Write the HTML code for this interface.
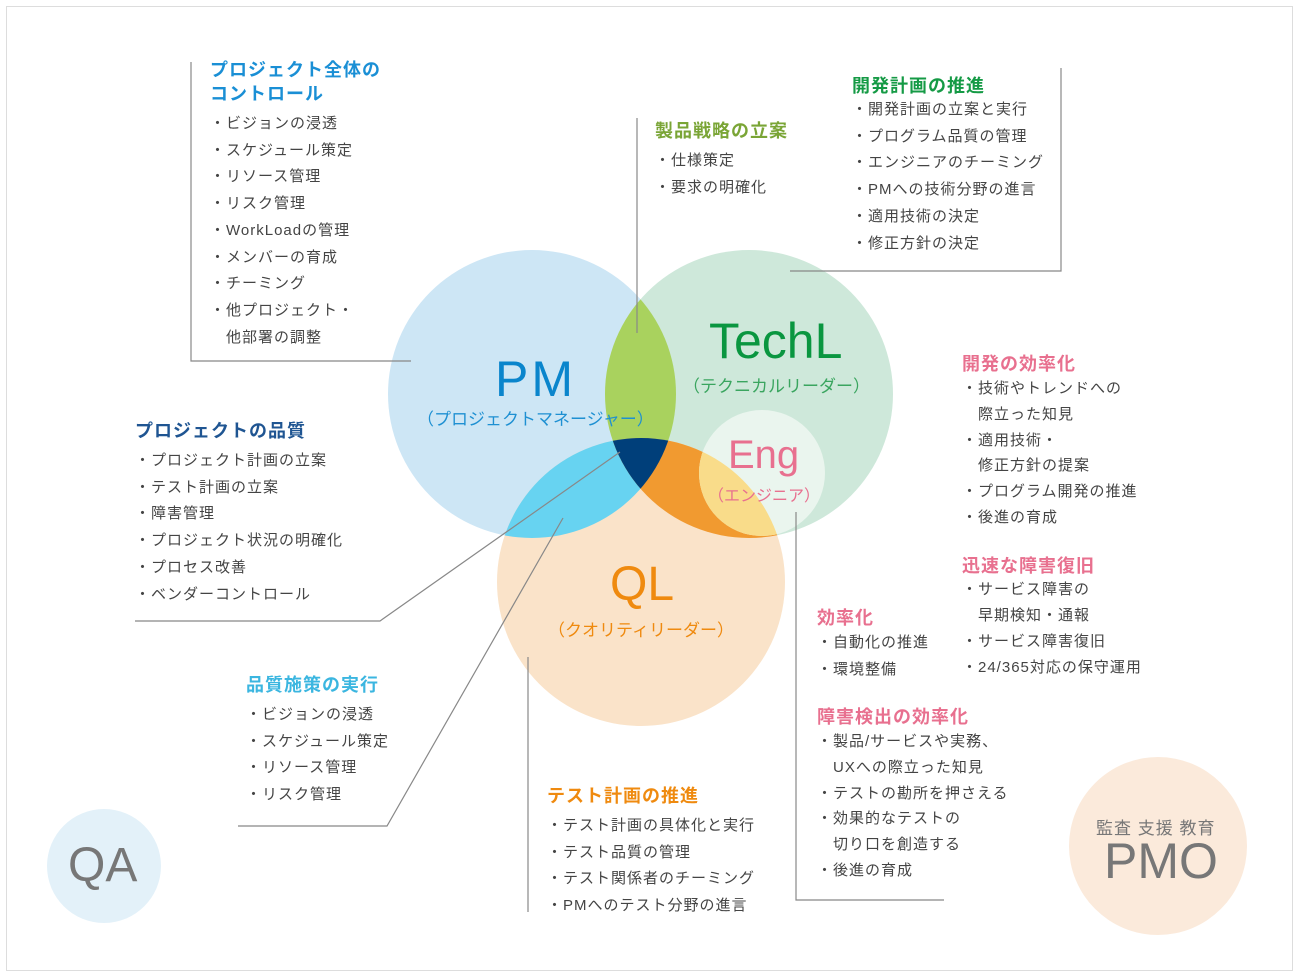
<!DOCTYPE html>
<html><head><meta charset="utf-8"><style>
body{margin:0;width:1299px;height:979px;background:#fff;position:relative;overflow:hidden;font-family:"Liberation Sans","Noto Sans CJK JP",sans-serif;color:#444}
.t{position:absolute;white-space:nowrap}
.h{font-size:18px;font-weight:bold;letter-spacing:1px}
.l{font-size:15px;line-height:26.7px;letter-spacing:1px}
</style></head><body>
<svg width="1299" height="979" style="position:absolute;left:0;top:0">
<rect x="6.5" y="6.5" width="1286" height="964" fill="none" stroke="#ddd"/>
<defs>
<clipPath id="cpm"><circle cx="532" cy="394" r="144"/></clipPath>
<clipPath id="ctl"><circle cx="749" cy="394" r="144"/></clipPath>
<clipPath id="cql"><circle cx="641" cy="582" r="144"/></clipPath>
<clipPath id="cen"><circle cx="762" cy="473" r="63"/></clipPath>
</defs>
<circle cx="532" cy="394" r="144" fill="#cde6f5"/>
<circle cx="749" cy="394" r="144" fill="#cee8da"/>
<circle cx="641" cy="582" r="144" fill="#fae3c9"/>
<circle cx="749" cy="394" r="144" fill="#a9d25e" clip-path="url(#cpm)"/>
<circle cx="641" cy="582" r="144" fill="#67d3f1" clip-path="url(#cpm)"/>
<circle cx="641" cy="582" r="144" fill="#f19a30" clip-path="url(#ctl)"/>
<g clip-path="url(#cpm)"><circle cx="641" cy="582" r="144" fill="#003f7a" clip-path="url(#ctl)"/></g>
<circle cx="762" cy="473" r="63" fill="#eaf5ee" clip-path="url(#ctl)"/>
<g clip-path="url(#cen)"><circle cx="641" cy="582" r="144" fill="#f9dc8a" clip-path="url(#ctl)"/></g>
<circle cx="104" cy="866" r="57" fill="#e3f1f9"/>
<circle cx="1158" cy="846" r="89" fill="#fbeadb"/>
<g stroke="#888" stroke-width="1.2" fill="none">
<polyline points="191,62 191,361 411,361"/>
<line x1="637" y1="118" x2="637" y2="333"/>
<polyline points="1061,68 1061,271 790,271"/>
<polyline points="135,621 380,621 620,452"/>
<polyline points="238,826 387,826 563,518"/>
<line x1="528" y1="657" x2="528" y2="912"/>
<polyline points="796,512 796,900 944,900"/>
</g>
</svg>
<div class="t" style="left:495px;top:350px;font-size:50px;color:#0a85cc;letter-spacing:3px">PM</div>
<div class="t" style="left:417px;top:405px;font-size:17px;color:#1e90d2">（プロジェクトマネージャー）</div>
<div class="t" style="left:709px;top:312px;font-size:50px;color:#0a9640">TechL</div>
<div class="t" style="left:683px;top:372px;font-size:17px;color:#3aa55f">（テクニカルリーダー）</div>
<div class="t" style="left:728px;top:433px;font-size:40px;color:#e8708f">Eng</div>
<div class="t" style="left:708px;top:482px;font-size:16px;color:#e8708f">（エンジニア）</div>
<div class="t" style="left:610px;top:557px;font-size:48px;color:#ef8a0f">QL</div>
<div class="t" style="left:548px;top:616px;font-size:17px;color:#ef8a0f">（クオリティリーダー）</div>
<div class="t" style="left:68px;top:838px;font-size:48px;color:#777">QA</div>
<div class="t" style="left:1096px;top:814px;font-size:17px;color:#777;letter-spacing:1px">監査 支援 教育</div>
<div class="t" style="left:1104px;top:832px;font-size:50px;color:#777">PMO</div>

<div class="t h" style="left:210px;top:58px;color:#1a8fd5;line-height:24px">プロジェクト全体の<br>コントロール</div>
<div class="t l" style="left:210px;top:111px">・ビジョンの浸透<br>・スケジュール策定<br>・リソース管理<br>・リスク管理<br>・WorkLoadの管理<br>・メンバーの育成<br>・チーミング<br>・他プロジェクト・<br>　他部署の調整</div>

<div class="t h" style="left:655px;top:117px;color:#7aa536">製品戦略の立案</div>
<div class="t l" style="left:655px;top:148px">・仕様策定<br>・要求の明確化</div>

<div class="t h" style="left:852px;top:72px;color:#159a45">開発計画の推進</div>
<div class="t l" style="left:852px;top:97px">・開発計画の立案と実行<br>・プログラム品質の管理<br>・エンジニアのチーミング<br>・PMへの技術分野の進言<br>・適用技術の決定<br>・修正方針の決定</div>

<div class="t h" style="left:962px;top:350px;color:#e8708f">開発の効率化</div>
<div class="t l" style="left:962px;top:376px;line-height:25.8px">・技術やトレンドへの<br>　際立った知見<br>・適用技術・<br>　修正方針の提案<br>・プログラム開発の推進<br>・後進の育成</div>

<div class="t h" style="left:962px;top:552px;color:#e8708f">迅速な障害復旧</div>
<div class="t l" style="left:962px;top:577px;line-height:26px">・サービス障害の<br>　早期検知・通報<br>・サービス障害復旧<br>・24/365対応の保守運用</div>

<div class="t h" style="left:817px;top:604px;color:#e8708f">効率化</div>
<div class="t l" style="left:817px;top:630px">・自動化の推進<br>・環境整備</div>

<div class="t h" style="left:817px;top:703px;color:#e8708f">障害検出の効率化</div>
<div class="t l" style="left:817px;top:729px;line-height:25.8px">・製品/サービスや実務、<br>　UXへの際立った知見<br>・テストの勘所を押さえる<br>・効果的なテストの<br>　切り口を創造する<br>・後進の育成</div>

<div class="t h" style="left:135px;top:417px;color:#1f5592">プロジェクトの品質</div>
<div class="t l" style="left:135px;top:448px">・プロジェクト計画の立案<br>・テスト計画の立案<br>・障害管理<br>・プロジェクト状況の明確化<br>・プロセス改善<br>・ベンダーコントロール</div>

<div class="t h" style="left:246px;top:671px;color:#3bb6e0">品質施策の実行</div>
<div class="t l" style="left:246px;top:702px">・ビジョンの浸透<br>・スケジュール策定<br>・リソース管理<br>・リスク管理</div>

<div class="t h" style="left:547px;top:782px;color:#ef8a0f">テスト計画の推進</div>
<div class="t l" style="left:547px;top:813px">・テスト計画の具体化と実行<br>・テスト品質の管理<br>・テスト関係者のチーミング<br>・PMへのテスト分野の進言</div>
</body></html>
